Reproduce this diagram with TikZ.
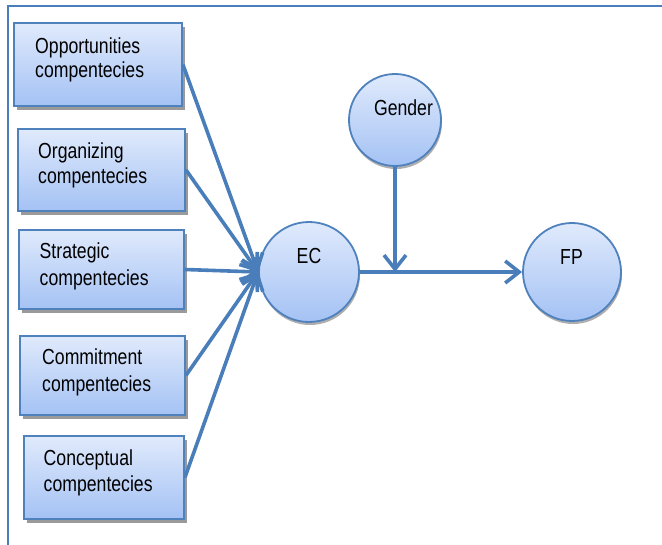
\documentclass[tikz,border=0pt]{standalone}
\usepackage{fontspec}
\setmainfont{Liberation Sans}[FakeStretch=0.81]
\usetikzlibrary{arrows.meta,shadows}
\definecolor{edge}{HTML}{4F81BD}
\definecolor{lin}{HTML}{4A7EBB}
\definecolor{ftop}{HTML}{E0EAFC}
\definecolor{fbot}{HTML}{A4C2F4}
\definecolor{shd}{HTML}{9A9A9A}
\begin{document}
\begin{tikzpicture}[x=1pt,y=-1pt,
  box/.style={draw=edge, line width=1.8pt, top color=ftop, bottom color=fbot, inner sep=0pt,
    drop shadow={shadow xshift=3pt, shadow yshift=-4pt, fill=shd, opacity=1}},
  circ/.style={circle, draw=edge, line width=1.8pt, top color=ftop, bottom color=fbot, inner sep=0pt,
    drop shadow={shadow xshift=1pt, shadow yshift=-3pt, fill=shd, opacity=0.8}},
  lbl/.style={inner sep=0pt, font=\fontsize{21.8}{26}\selectfont},
  conn/.style={draw=lin, line width=3.6pt, -{Straight Barb[length=14pt,width=22pt]}},
  frame/.style={draw=lin, line width=2pt}]
\useasboundingbox (0,0) rectangle (662,545);
\draw[frame] (8,545) -- (8,6.5) -- (662,6.5);

% boxes
\node[box, minimum width=168pt, minimum height=83pt] (b1) at (98,64.5) {};
\node[box, minimum width=167pt, minimum height=82pt] (b2) at (101.5,169.8) {};
\node[box, minimum width=165pt, minimum height=79pt] (b3) at (101.5,269.5) {};
\node[box, minimum width=165pt, minimum height=79pt] (b4) at (102.5,375.5) {};
\node[box, minimum width=160pt, minimum height=83pt] (b5) at (104,477.5) {};

\node[lbl, anchor=base west] (t1) at (35,54) {\begin{tabular}[t]{@{}l@{}}Opportunities\\[-2pt]compentecies\end{tabular}};
\node[lbl, anchor=base west] (t2) at (38,159) {\begin{tabular}[t]{@{}l@{}}Organizing\\[-1pt]compentecies\end{tabular}};
\node[lbl, anchor=base west] (t3) at (39.5,259) {\begin{tabular}[t]{@{}l@{}}Strategic\\[1pt]compentecies\end{tabular}};
\node[lbl, anchor=base west] (t4) at (42,365) {\begin{tabular}[t]{@{}l@{}}Commitment\\[1pt]compentecies\end{tabular}};
\node[lbl, anchor=base west] (t5) at (43.5,466) {\begin{tabular}[t]{@{}l@{}}Conceptual\\compentecies\end{tabular}};

% circles
\node[circ, minimum size=100pt] (EC) at (309,272) {};
\node[circ, minimum size=92pt] (G) at (395,120) {};
\node[circ, minimum size=98pt] (FP) at (572,272) {};
\node[lbl] (ECt) at (309,256) {EC};
\node[lbl] (Gt) at (403.5,107.5) {Gender};
\node[lbl] (FPt) at (571.5,257.5) {FP};

% connectors
\coordinate (mid) at (G.south |- EC.east);
\draw[conn] (EC.east) -- (FP.west);
\draw[conn] (G.south) -- (mid);
\foreach \b in {b1,b2,b3,b4,b5}
  \draw[conn] (\b.east) -- (EC.west);
\end{tikzpicture}
\end{document}
